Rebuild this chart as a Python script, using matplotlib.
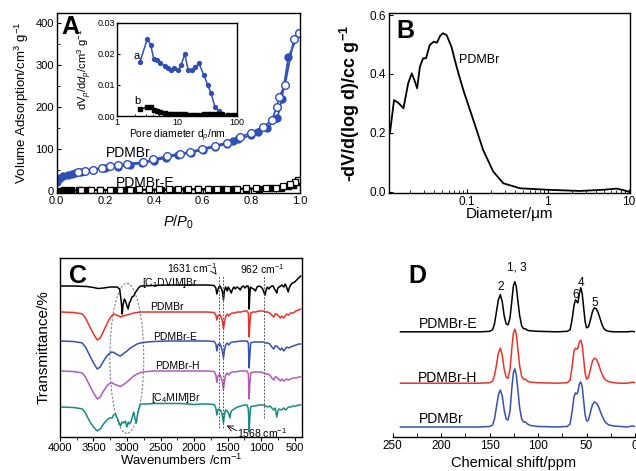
import numpy as np
import matplotlib.pyplot as plt
from matplotlib.patches import Ellipse

plt.rcParams['font.family'] = ['Liberation Sans', 'DejaVu Sans']
plt.rcParams['mathtext.fontset'] = 'custom'
plt.rcParams['mathtext.rm'] = 'Liberation Sans'
plt.rcParams['mathtext.it'] = 'Liberation Sans:italic'
plt.rcParams['mathtext.bf'] = 'Liberation Sans:bold'
plt.rcParams['axes.linewidth'] = 1.0

BLUE = '#2f4fb4'

# --- A: N2 isotherms (P/P0, cm3/g)
pdm_ads_x = [0.003, 0.014, 0.027, 0.048, 0.062, 0.075, 0.1, 0.15, 0.2, 0.25, 0.3, 0.35, 0.4,
             0.45, 0.5, 0.55, 0.6, 0.65, 0.7, 0.726, 0.747, 0.8, 0.829, 0.863, 0.907, 0.925,
             0.952, 0.995]
pdm_ads_y = [22, 30, 36, 38, 40, 42, 46, 50, 55, 58, 62, 66, 72, 79, 86, 91, 98, 105, 112,
             120, 123, 133, 141, 149, 173, 218, 318, 376]
pdm_des_x = [0.995, 0.975, 0.938, 0.915, 0.904, 0.884, 0.849, 0.8, 0.753, 0.699, 0.651,
             0.596, 0.548, 0.507, 0.452, 0.397, 0.353, 0.288, 0.253, 0.219, 0.185, 0.15,
             0.116, 0.089]
pdm_des_y = [377, 362, 252, 225, 200, 168, 153, 139, 128, 115, 108, 100, 93, 89, 83, 75,
             68, 65, 62, 59, 55, 51, 48, 46]
e_ads_x = [0.005, 0.03, 0.06, 0.09, 0.13, 0.18, 0.23, 0.28, 0.33, 0.38, 0.43, 0.48, 0.53,
           0.58, 0.63, 0.68, 0.73, 0.78, 0.83, 0.88, 0.92, 0.95, 0.97, 0.995]
e_ads_y = [0.5, 1, 1, 1.5, 1.5, 2, 2, 2, 2.5, 2.5, 3, 3, 3, 3.5, 3.5, 4, 4, 5, 5, 6, 8, 11,
           15, 21]
e_des_x = [0.99, 0.98, 0.96, 0.93, 0.9, 0.86, 0.82, 0.78, 0.74, 0.7, 0.66, 0.62, 0.58, 0.54,
           0.5, 0.46, 0.42, 0.38, 0.34, 0.3, 0.26, 0.22, 0.18, 0.14, 0.1]
e_des_y = [25, 21, 16, 11, 8, 7, 6, 6, 5.5, 5, 5, 4.5, 4.5, 4, 4, 4, 3.5, 3.5, 3.5, 3, 3, 3,
           2.5, 2.5, 2.5]

# inset: pore size distribution
pore_d = [2.39, 3.2, 3.64, 4.1, 4.7, 5.3, 6.2, 7.0, 7.9, 9.0, 10.4, 11.8, 13.4, 15.4, 17.5,
          20, 23.2, 27.8, 32.5, 37, 43, 49.6, 57, 70, 85, 100]
dist_a = [0.0173, 0.0248, 0.0230, 0.0183, 0.0181, 0.0170, 0.0162, 0.0154, 0.0147, 0.0154,
          0.0147, 0.0165, 0.0200, 0.0147, 0.0149, 0.0158, 0.0170, 0.0133, 0.0100, 0.0073,
          0.0028, 0.0017, 0.0006, 0.0002, 0.0001, 0.0001]
dist_b = [0.0022, 0.0028, 0.0029, 0.0020, 0.0015, 0.0012, 0.0010, 0.0008, 0.0007, 0.0006,
          0.0005, 0.0005, 0.0005, 0.0004, 0.0004, 0.0004, 0.0004, 0.0005, 0.0005, 0.0006,
          0.0006, 0.0006, 0.0005, 0.0004, 0.0004, 0.0003]

# --- B: Hg intrusion (um, cc/g)
hg_d = [0.0113, 0.0127, 0.0143, 0.0166, 0.019, 0.021, 0.023, 0.0245, 0.0265, 0.029, 0.0315,
        0.035, 0.039, 0.043, 0.047, 0.051, 0.0566, 0.065, 0.075, 0.091, 0.121, 0.16, 0.213,
        0.284, 0.457, 1.0, 2.5, 4.9, 7.1, 9.4, 10.4]
hg_v = [0.198, 0.311, 0.302, 0.283, 0.368, 0.402, 0.374, 0.351, 0.424, 0.453, 0.453, 0.498,
        0.509, 0.506, 0.529, 0.538, 0.532, 0.492, 0.425, 0.345, 0.243, 0.141, 0.068, 0.028,
        0.011, 0.006, 0.002, 0.006, 0.010, 0.002, -0.002]

# --- C: FTIR (wavenumber, offset transmittance)
ir_c1dvim = [(4000, 151), (3800, 151), (3600, 150.5), (3500, 149.5), (3430, 148.5), (3350, 149),
             (3250, 150), (3150, 150), (3110, 148), (3085, 135), (3072, 123), (3060, 132),
             (3040, 138), (3023, 136), (3000, 131), (2983, 128), (2965, 134), (2948, 136),
             (2925, 140), (2899, 141), (2880, 144), (2860, 146), (2830, 149), (2800, 151),
             (2600, 151.5), (2400, 152), (2000, 152), (1800, 152), (1700, 151.5), (1675, 149),
             (1659, 143), (1645, 147), (1630, 150), (1610, 151), (1590, 148), (1575, 145),
             (1561, 137), (1548, 146), (1530, 150), (1505, 146), (1490, 150), (1465, 147),
             (1445, 144), (1425, 148), (1405, 150), (1385, 148), (1360, 150), (1335, 149),
             (1310, 147), (1290, 150), (1265, 151), (1240, 149), (1215, 151), (1195, 151),
             (1185, 148), (1178, 128), (1170, 140), (1160, 150), (1140, 149), (1110, 148),
             (1085, 146), (1060, 150), (1030, 151), (1000, 150), (975, 148), (955, 144),
             (940, 142), (925, 147), (905, 150), (885, 148), (860, 150), (840, 151), (820, 151),
             (800, 148), (780, 146), (766, 144), (750, 149), (730, 150), (710, 151), (690, 152),
             (660, 150), (640, 153), (615, 149), (595, 145), (580, 149), (560, 152), (530, 154),
             (500, 155), (470, 157), (440, 159), (410, 161)]
ir_pdmbr = [(4000, 125), (3800, 124.5), (3700, 123.5), (3667, 123), (3620, 119), (3560, 111),
            (3500, 103), (3444, 97), (3400, 99), (3350, 106), (3300, 113), (3271, 117),
            (3230, 121), (3197, 123), (3160, 122), (3120, 121), (3097, 120), (3060, 121),
            (3000, 122), (2950, 123), (2900, 124), (2800, 125), (2400, 125), (2000, 125),
            (1800, 125), (1700, 124.5), (1675, 122), (1659, 117), (1645, 121), (1630, 122),
            (1610, 122), (1590, 119), (1575, 115), (1561, 108), (1548, 114), (1530, 120),
            (1505, 123), (1480, 121), (1460, 123), (1430, 124), (1400, 124), (1350, 125),
            (1300, 125), (1250, 126), (1210, 126), (1190, 124), (1178, 100), (1168, 112),
            (1155, 124), (1120, 125), (1080, 125), (1040, 126), (1000, 126), (962, 126),
            (930, 125), (900, 125), (870, 124), (840, 122), (810, 120), (790, 123), (766, 123),
            (740, 121), (710, 119), (690, 121), (660, 119), (640, 121), (620, 123), (590, 122),
            (560, 124), (520, 124), (480, 126), (440, 127), (410, 128)]
ir_pdmbr_e = [(4000, 96), (3800, 95.5), (3700, 94.5), (3667, 94), (3620, 90), (3560, 82),
              (3500, 74), (3444, 68), (3400, 70), (3350, 76), (3300, 81), (3271, 83),
              (3230, 85), (3197, 84.5), (3160, 83), (3120, 81.5), (3097, 81), (3060, 83),
              (3000, 86), (2950, 89), (2900, 91), (2850, 93), (2800, 94), (2700, 95),
              (2600, 95.5), (2400, 96), (2000, 96), (1800, 96), (1700, 95.5), (1675, 93),
              (1659, 86), (1645, 92), (1630, 93), (1610, 93), (1590, 89), (1575, 85),
              (1561, 79), (1548, 86), (1530, 92), (1505, 94), (1480, 92), (1460, 94),
              (1430, 95), (1400, 95), (1350, 95.5), (1300, 96), (1250, 96), (1210, 96),
              (1190, 94), (1178, 69), (1168, 82), (1155, 94), (1120, 95), (1080, 95),
              (1040, 95), (1000, 95), (962, 95), (930, 94), (900, 94), (870, 93), (840, 90),
              (810, 88), (790, 91), (766, 91), (740, 89), (710, 87), (690, 89), (660, 86),
              (640, 88), (620, 90), (590, 89), (560, 90), (520, 91), (480, 92), (440, 93),
              (410, 93)]
ir_pdmbr_h = [(4000, 66), (3800, 65.5), (3700, 64.5), (3667, 64), (3620, 60), (3560, 52),
              (3500, 44), (3444, 38), (3400, 40), (3350, 46), (3300, 51), (3271, 53),
              (3230, 54.5), (3197, 53), (3160, 52), (3120, 51), (3097, 50.5), (3060, 52),
              (3000, 55), (2950, 58), (2900, 61), (2850, 63), (2800, 64.5), (2700, 65.5),
              (2600, 66), (2400, 66), (2000, 66), (1800, 66), (1700, 65.5), (1675, 62),
              (1659, 54.5), (1645, 61), (1630, 62), (1610, 62), (1590, 58), (1575, 54),
              (1561, 48), (1548, 55), (1530, 62), (1505, 64), (1480, 62), (1460, 64),
              (1430, 65), (1400, 65), (1350, 65.5), (1300, 66), (1250, 66), (1210, 66),
              (1190, 63), (1178, 38), (1168, 52), (1155, 64), (1120, 65), (1080, 65),
              (1040, 65), (1000, 65), (962, 64), (930, 63), (900, 63), (870, 62), (840, 59),
              (810, 57), (790, 60), (766, 60), (740, 58), (710, 56), (690, 58), (660, 56),
              (640, 57), (620, 58), (590, 57), (560, 58), (520, 59), (480, 59), (440, 60),
              (410, 60)]
ir_c4mim = [(4000, 30), (3800, 29.5), (3700, 28.5), (3667, 28), (3620, 24), (3560, 16),
            (3500, 10), (3444, 6), (3400, 8), (3350, 13), (3300, 17), (3260, 19), (3222, 19),
            (3200, 22), (3172, 23), (3140, 18), (3097, 11), (3075, 15), (3050, 14), (3025, 16),
            (3003, 10), (2980, 15), (2965, 13), (2948, 14), (2925, 19), (2899, 25), (2880, 18),
            (2860, 14), (2845, 22), (2825, 28), (2800, 33), (2700, 33), (2600, 33.5),
            (2400, 33.5), (2200, 33.5), (2100, 33), (2000, 32.5), (1900, 33), (1800, 33),
            (1700, 32.5), (1675, 29), (1659, 22), (1645, 27), (1630, 28), (1610, 27),
            (1590, 25), (1575, 20), (1561, 14), (1548, 22), (1530, 27), (1505, 26), (1480, 23),
            (1465, 19), (1450, 25), (1430, 27), (1400, 28), (1380, 29), (1350, 30), (1300, 31),
            (1250, 32), (1210, 32), (1190, 28), (1178, 5), (1168, 20), (1155, 30), (1120, 31),
            (1080, 31), (1040, 32), (1000, 32), (962, 32), (930, 31), (900, 30), (870, 31),
            (840, 29), (810, 27), (790, 29), (766, 20), (750, 26), (730, 28), (700, 27),
            (660, 29), (640, 27), (620, 28), (590, 30), (560, 30), (520, 31), (480, 31),
            (440, 32), (410, 32)]
ir_names = ['[C$_1$DVIM]Br', 'PDMBr', 'PDMBr-E', 'PDMBr-H', '[C$_4$MIM]Br']
ir_colors = ['black', '#e8332b', '#3550b0', '#b358bd', '#158a85']

# --- D: 13C NMR (ppm, intensity above baseline)
nmr_ppm = [242, 200, 160, 150, 147, 145, 143, 141, 139, 137, 135, 133, 131, 129, 127, 125.5,
           124, 122.5, 121, 119, 117, 115, 113, 111, 108, 100, 80, 70, 67, 65, 63, 61.5, 60,
           59, 57.5, 56, 54.5, 53, 51.5, 50, 48, 46, 44, 42, 40, 38, 36, 34, 32, 30, 27, 22,
           15, 8, 3, 0]
nmr_e = [0, 0, 0, 0.5, 2, 8, 20, 32, 37, 30, 16, 8, 7, 14, 32, 46, 50, 45, 32, 16, 6, 3, 3,
         1.5, 1, 0.5, 0, 0.5, 2, 12, 26, 32, 30, 29, 38, 44, 38, 24, 10, 4, 5, 12, 20, 24, 23,
         19, 13, 7, 3, 1.5, 0.5, 0, 0, 0, 0.5, 0]
nmr_h = [0, 0, 0, 0.5, 2, 8, 18, 30, 35, 28, 14, 6, 5, 14, 36, 50, 54, 49, 35, 17, 7, 4, 4,
         2, 1, 0.5, 0, 0.5, 3, 16, 32, 35, 34, 35, 41, 43, 38, 24, 10, 4, 6, 14, 22, 25, 24,
         20, 14, 9, 5, 3, 1.5, 0.5, 0, 0, 1, 0.5]
nmr_p = [0, 0, 0, 0.5, 2, 8, 20, 32, 37, 31, 17, 8, 7, 16, 40, 54, 58, 52, 38, 19, 8, 5, 5,
         3, 1.5, 0.5, 0, 0.5, 3, 15, 30, 34, 33, 35, 43, 45, 40, 26, 12, 6, 7, 15, 22, 25, 24,
         21, 16, 11, 7, 4, 2, 1, 0.5, 0, 1, 0.5]
nmr_offsets = [105, 53.7, 10]

fig = plt.figure(figsize=(6.36, 4.71), dpi=100)

# ---------------- A
axA = fig.add_axes([0.0891, 0.5902, 0.3826, 0.3822])
axA.plot(pdm_ads_x, pdm_ads_y, '-o', color=BLUE, ms=5, lw=1.3, mfc=BLUE, mec=BLUE)
axA.plot(pdm_des_x, pdm_des_y, '-o', color=BLUE, ms=5.5, lw=1.3, mfc='white', mec=BLUE, mew=1)
axA.plot(e_ads_x, e_ads_y, '-s', color='black', ms=4, lw=1.2, mfc='black')
axA.plot(e_des_x, e_des_y, '-s', color='black', ms=4.5, lw=1.2, mfc='white', mew=0.9)
axA.set_xlim(0, 1.0)
axA.set_ylim(-5, 424)
axA.set_xticks(np.arange(0, 1.01, 0.2))
axA.set_xticks(np.arange(0, 1.01, 0.1), minor=True)
axA.set_yticks([0, 100, 200, 300, 400])
axA.set_yticks(np.arange(0, 420, 50), minor=True)
axA.tick_params(direction='in', labelsize=8, length=3, pad=2)
axA.tick_params(which='minor', direction='in', length=2)
axA.set_xlabel('$P/P_0$', fontsize=10.5)
axA.xaxis.set_label_coords(0.5, -0.115)
axA.set_ylabel('Volume Adsorption/cm$^3$ g$^{-1}$', fontsize=9.5)
axA.yaxis.set_label_coords(-0.105, 0.5)
axA.text(0.295, 90, 'PDMBr', fontsize=10, ha='center', va='center')
axA.text(0.364, 20, 'PDMBr-E', fontsize=10, ha='center', va='center')
axA.text(0.055, 0.92, 'A', transform=axA.transAxes, fontsize=18, fontweight='bold',
         ha='center', va='center')

axI = fig.add_axes([0.184, 0.7537, 0.1887, 0.1975])
axI.plot(pore_d, dist_a, '-o', color=BLUE, ms=2.8, lw=1.1)
axI.plot(pore_d, dist_b, '-s', color='black', ms=2.8, lw=1.1)
axI.set_xscale('log')
axI.set_xlim(1, 100)
axI.set_ylim(0, 0.03)
axI.set_xticks([1, 10, 100])
axI.set_xticklabels(['1', '10', '100'])
axI.set_yticks([0, 0.01, 0.02, 0.03])
axI.set_yticklabels(['0.00', '0.01', '0.02', '0.03'])
axI.tick_params(direction='in', labelsize=6.5, length=2.5, pad=1.5)
axI.tick_params(which='minor', direction='in', length=1.5)
axI.set_xlabel('Pore diameter d$_p$/nm', fontsize=7.5, labelpad=0.5)
axI.set_ylabel('dV$_p$/d$d_p$/cm$^3$ g$^{-1}$', fontsize=8)
axI.yaxis.set_label_coords(-0.19, 0.5)
axI.text(2.1, 0.0195, 'a', fontsize=8, ha='center', va='center')
axI.text(2.2, 0.0048, 'b', fontsize=8, ha='center', va='center')

# ---------------- B
axB = fig.add_axes([0.6116, 0.5902, 0.379, 0.3822])
axB.plot(hg_d, hg_v, '-', color='black', lw=1.3)
axB.set_xscale('log')
axB.set_xlim(0.011, 10.4)
axB.set_ylim(-0.005, 0.607)
axB.set_xticks([0.1, 1, 10])
axB.set_xticklabels(['0.1', '1', '10'])
axB.set_yticks([0, 0.2, 0.4, 0.6])
axB.set_yticklabels(['0.0', '0.2', '0.4', '0.6'])
axB.tick_params(direction='in', labelsize=8.5, length=3, pad=2)
axB.tick_params(which='minor', direction='in', length=2)
axB.set_xlabel('Diameter/\u03bcm', fontsize=11)
axB.xaxis.set_label_coords(0.5, -0.075)
axB.set_ylabel('-dV/d(log d)/cc g$^{\\mathbf{-1}}$', fontsize=13, fontweight='bold')
axB.yaxis.set_label_coords(-0.11, 0.5)
axB.text(0.29, 0.74, 'PDMBr', transform=axB.transAxes, fontsize=9, ha='left', va='center')
axB.text(0.07, 0.9, 'B', transform=axB.transAxes, fontsize=18, fontweight='bold',
         ha='center', va='center')

# ---------------- C
axC = fig.add_axes([0.0943, 0.0722, 0.3805, 0.38])
label_pos = [(2353, 154), (2403, 130.5), (2279, 100.5), (2254, 71.5), (2264, 38.5)]
for spec, name, col, (lx, ly) in zip([ir_c1dvim, ir_pdmbr, ir_pdmbr_e, ir_pdmbr_h, ir_c4mim],
                                     ir_names, ir_colors, label_pos):
    wn, tr = np.array(spec).T
    axC.plot(wn, tr, color=col, lw=1.1)
    axC.text(lx, ly, name, fontsize=7.5, ha='center', va='center')
for wv, top, bot in [(1631, 162, 9), (1568, 162, 9), (962, 162, 19)]:
    axC.plot([wv, wv], [bot, top], ls=(0, (2, 1.5)), color='0.35', lw=0.7)
axC.add_patch(Ellipse((3003, 78.7), 505, 150, fill=False, ls=(0, (2, 1.5)), ec='0.5', lw=0.8))
axC.text(2031, 169.3, '1631 cm$^{-1}$', fontsize=7.5, ha='center', va='center')
axC.annotate('', xy=(1640, 160), xytext=(1705, 166),
             arrowprops=dict(arrowstyle='->', lw=0.6, color='black'))
axC.text(990, 167.7, '962 cm$^{-1}$', fontsize=7.5, ha='center', va='center')
axC.text(990, 3.5, '1568 cm$^{-1}$', fontsize=7.5, ha='center', va='center')
axC.annotate('', xy=(1550, 12.7), xytext=(1322, 5),
             arrowprops=dict(arrowstyle='->', lw=0.6, color='black'))
axC.set_xlim(4000, 390)
axC.set_ylim(0, 179)
axC.set_xticks(np.arange(4000, 400, -500))
axC.set_xticks(np.arange(4000, 400, -250), minor=True)
axC.set_yticks([])
axC.tick_params(direction='out', labelsize=8, length=3, pad=1)
axC.tick_params(which='minor', direction='out', length=2)
axC.set_xlabel('Wavenumbers /cm$^{-1}$', fontsize=9.5)
axC.xaxis.set_label_coords(0.5, -0.088)
axC.set_ylabel('Transmittance/%', fontsize=11)
axC.yaxis.set_label_coords(-0.04, 0.5)
axC.text(0.075, 0.9, 'C', transform=axC.transAxes, fontsize=18, fontweight='bold',
         ha='center', va='center')

# ---------------- D
axD = fig.add_axes([0.6175, 0.0722, 0.381, 0.38])
for inten, off, col in zip([nmr_e, nmr_h, nmr_p], nmr_offsets, ['black', '#e8332b', '#3550b0']):
    axD.plot(nmr_ppm, np.array(inten) + off, color=col, lw=1.1)
axD.text(163, 113, 'PDMBr-E', fontsize=10, ha='right', va='center')
axD.text(163, 59, 'PDMBr-H', fontsize=10, ha='right', va='center')
axD.text(177, 18, 'PDMBr', fontsize=10, ha='right', va='center')
for lab, px, py in [('2', 139, 150), ('1, 3', 122, 169), ('6', 61.5, 142), ('4', 56, 154),
                    ('5', 42, 134)]:
    axD.text(px, py, lab, fontsize=8.5, ha='center', va='center')
axD.text(0.1, 0.9, 'D', transform=axD.transAxes, fontsize=18, fontweight='bold',
         ha='center', va='center')
axD.set_xlim(250, 0)
axD.set_ylim(0, 178.7)
for s in ['left', 'right', 'top']:
    axD.spines[s].set_visible(False)
axD.set_yticks([])
axD.set_xticks(np.arange(250, -1, -50))
axD.set_xticks(np.arange(250, -1, -25), minor=True)
axD.tick_params(direction='in', labelsize=8.5, length=3, pad=2)
axD.tick_params(which='minor', direction='in', length=3)
axD.set_xlabel('Chemical shift/ppm', fontsize=10.5)
axD.xaxis.set_label_coords(0.5, -0.105)

plt.savefig('out.png', dpi=100)
